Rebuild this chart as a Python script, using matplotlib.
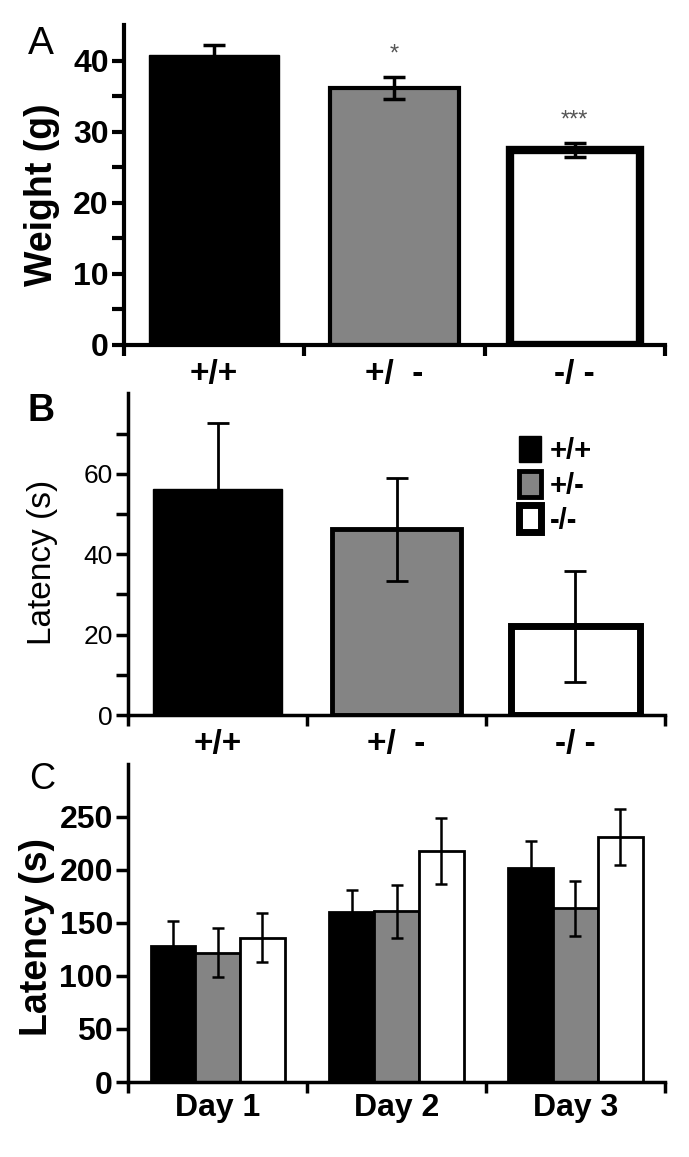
import numpy as np
import matplotlib
matplotlib.use("Agg")
import matplotlib.pyplot as plt

plt.rcParams['font.family'] = ['Liberation Sans', 'DejaVu Sans']

# ---- data ----
genotypes = ['+/+', '+/  -', '-/ -']
legend_labels = ['+/+', '+/-', '-/-']
bar_colors = ['black', '#848484', 'white']

weight_mean = [40.8, 36.2, 27.5]
weight_err = [1.5, 1.5, 1.0]
weight_sig = ['', '*', '***']

latB_mean = [56.3, 46.2, 22.1]
latB_err = [16.4, 12.8, 13.8]

days = ['Day 1', 'Day 2', 'Day 3']
latC_wt = [128, 160, 202]
latC_het = [122, 161, 164]
latC_ko = [136, 218, 231]
errC_wt = [24, 21, 25]
errC_het = [23, 25, 26]
errC_ko = [23, 31, 26]

fig = plt.figure(figsize=(6.89, 11.57), dpi=100)
axA = fig.add_axes([0.180, 0.702, 0.785, 0.276])
axB = fig.add_axes([0.186, 0.382, 0.779, 0.278])
axC = fig.add_axes([0.186, 0.0648, 0.779, 0.275])

x = np.arange(3) + 0.5


def style_axis(ax, lw):
    for s in ('top', 'right'):
        ax.spines[s].set_visible(False)
    ax.spines['left'].set_linewidth(lw)
    ax.spines['bottom'].set_linewidth(lw)
    ax.set_xlim(0, 3)
    ax.set_xticks([0, 1, 2, 3])
    ax.set_xticklabels([])
    ax.tick_params(axis='x', which='major', direction='out', length=8, width=lw)
    ax.tick_params(axis='y', which='major', direction='out', length=9, width=lw, pad=2)


# ---- panel A ----
edge_w_A = [1, 3, 6]
for i in range(3):
    axA.bar(x[i], weight_mean[i], width=0.72, color=bar_colors[i],
            edgecolor='black', linewidth=edge_w_A[i], zorder=2)
axA.errorbar(x, weight_mean, yerr=weight_err, fmt='none', ecolor='black',
             elinewidth=2.5, capsize=8, capthick=2.5, zorder=3)
for i in range(3):
    if weight_sig[i]:
        axA.text(x[i], weight_mean[i] + weight_err[i] + 1.6, weight_sig[i],
                 ha='center', va='bottom', fontsize=17, color='#555555')
style_axis(axA, 3)
axA.set_ylim(0, 45)
axA.set_yticks(np.arange(0, 45, 5))
axA.set_yticklabels(['0', '', '10', '', '20', '', '30', '', '40'],
                    fontsize=23, fontweight='bold')
axA.set_xticks(x, minor=True)
axA.set_xticklabels(genotypes, minor=True, fontsize=24, fontweight='bold')
axA.tick_params(axis='x', which='minor', length=0, pad=10)
axA.set_ylabel('Weight (g)', fontsize=27, fontweight='bold')
axA.yaxis.set_label_coords(-0.118, 0.47)
fig.text(0.040, 0.962, 'A', fontsize=28, ha='left', va='center')

# ---- panel B ----
edge_w_B = [1, 3.5, 5]
for i in range(3):
    axB.bar(x[i], latB_mean[i], width=0.72, color=bar_colors[i],
            edgecolor='black', linewidth=edge_w_B[i], zorder=2,
            label=legend_labels[i])
axB.errorbar(x, latB_mean, yerr=latB_err, fmt='none', ecolor='black',
             elinewidth=2, capsize=8, capthick=2, zorder=3)
style_axis(axB, 2.5)
axB.set_ylim(0, 80)
axB.set_yticks(np.arange(0, 80, 10))
axB.set_yticklabels(['0', '', '20', '', '40', '', '60', ''], fontsize=19)
axB.set_xticks(x, minor=True)
axB.set_xticklabels(genotypes, minor=True, fontsize=24, fontweight='bold')
axB.tick_params(axis='x', which='minor', length=0, pad=10)
axB.set_ylabel('Latency (s)', fontsize=24)
axB.yaxis.set_label_coords(-0.13, 0.475)
axB.legend(loc='upper left', bbox_to_anchor=(0.68, 0.95), frameon=False,
           handlelength=0.75, handleheight=1.0, handletextpad=0.3,
           labelspacing=0.2, prop={'weight': 'bold', 'size': 21})
fig.text(0.040, 0.645, 'B', fontsize=27, fontweight='bold', ha='left', va='center')

# ---- panel C ----
w = 0.25
offs = [-w, 0, w]
for i, (vals, errs) in enumerate([(latC_wt, errC_wt), (latC_het, errC_het), (latC_ko, errC_ko)]):
    axC.bar(x + offs[i], vals, width=w, color=bar_colors[i],
            edgecolor='black', linewidth=2, zorder=2)
    axC.errorbar(x + offs[i], vals, yerr=errs, fmt='none', ecolor='black',
                 elinewidth=1.8, capsize=4, capthick=1.8, zorder=3)
style_axis(axC, 2.5)
axC.set_ylim(0, 300)
axC.set_yticks(np.arange(0, 251, 50))
axC.set_yticklabels([str(v) for v in range(0, 251, 50)],
                    fontsize=23, fontweight='bold')
axC.set_xticks(x, minor=True)
axC.set_xticklabels(days, minor=True, fontsize=23, fontweight='bold')
axC.tick_params(axis='x', which='minor', length=0, pad=8)
axC.set_ylabel('Latency (s)', fontsize=27, fontweight='bold')
axC.yaxis.set_label_coords(-0.136, 0.456)
fig.text(0.042, 0.326, 'C', fontsize=26, ha='left', va='center')

fig.savefig('out.png', dpi=100)
